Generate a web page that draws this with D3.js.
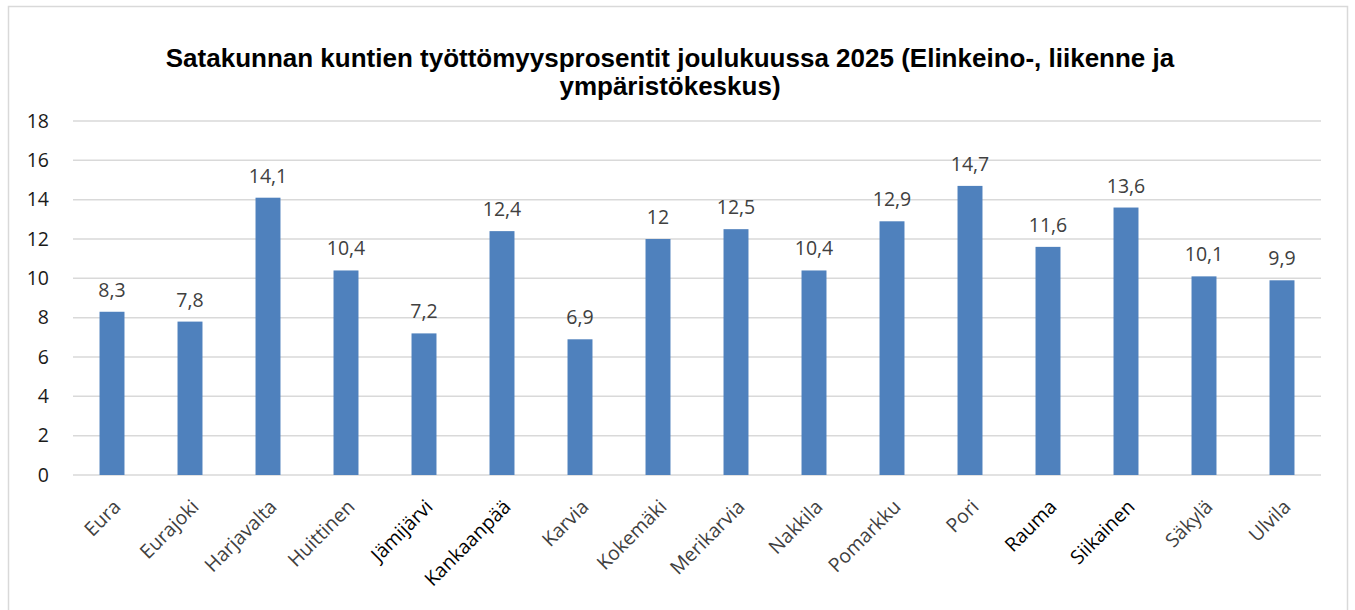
<!DOCTYPE html>
<html>
<head>
<meta charset="utf-8">
<script src="https://cdn.jsdelivr.net/npm/d3@7"></script>
<style>
  body { margin: 0; background: #fff; }
  svg { display: block; }
</style>
</head>
<body>
<div class="chartDiv"></div>
<script>
// data
var municipalities = ["Eura", "Eurajoki", "Harjavalta", "Huittinen", "Jämijärvi", "Kankaanpää",
  "Karvia", "Kokemäki", "Merikarvia", "Nakkila", "Pomarkku", "Pori", "Rauma", "Siikainen",
  "Säkylä", "Ulvila"];
var rates = [8.3, 7.8, 14.1, 10.4, 7.2, 12.4, 6.9, 12, 12.5, 10.4, 12.9, 14.7, 11.6, 13.6, 10.1, 9.9];
var darkLabels = ["Jämijärvi", "Kankaanpää", "Rauma", "Siikainen"];
var yTicks = [0, 2, 4, 6, 8, 10, 12, 14, 16, 18];
var titleLines = ["Satakunnan kuntien työttömyysprosentit joulukuussa 2025 (Elinkeino-, liikenne ja",
  "ympäristökeskus)"];

var width = 1355, height = 610;
var margin = {top: 121, right: 34, bottom: 135, left: 73};
var labelFont = "'Open Sans', 'Noto Sans', sans-serif";

var svg = d3.select(".chartDiv").append("svg")
  .attr("width", width).attr("height", height);

// outer frame
svg.append("rect").attr("x", 8.5).attr("y", 6.5)
  .attr("width", 1339).attr("height", 620)
  .attr("fill", "#fff").attr("stroke", "#d9d9d9").attr("stroke-width", 1.5);

var x = d3.scaleBand().domain(municipalities)
  .range([margin.left, width - margin.right]).paddingInner(0.68).paddingOuter(0.34);
var y = d3.scaleLinear().domain([0, 18]).range([height - margin.bottom, margin.top]);

// title
svg.append("text").attr("x", 670).attr("y", 67)
  .attr("text-anchor", "middle")
  .style("font-family", "'Liberation Sans', Arial, sans-serif")
  .style("font-weight", "bold").style("font-size", "26px").attr("fill", "#000")
  .selectAll("tspan").data(titleLines).enter().append("tspan")
  .attr("x", 670).attr("dy", function(d, i){ return i === 0 ? 0 : 28; })
  .text(function(d){ return d; });

// grid
svg.append("g").selectAll("line").data(yTicks).enter().append("line")
  .attr("x1", margin.left).attr("x2", width - margin.right)
  .attr("y1", function(d){ return y(d); }).attr("y2", function(d){ return y(d); })
  .attr("stroke", "#d9d9d9").attr("stroke-width", 1.5);

// y axis labels
var yAxis = d3.axisLeft(y).tickValues(yTicks).tickSize(0).tickPadding(0);
var yg = svg.append("g").attr("transform", "translate(49,0)").call(yAxis);
yg.select(".domain").remove();
yg.selectAll("text").style("font-family", labelFont)
  .style("font-size", "19.5px").attr("fill", "#1a1a1a").attr("text-anchor", "end");

// bars
svg.append("g").selectAll("rect").data(rates).enter().append("rect")
  .attr("x", function(d, i){ return x(municipalities[i]); })
  .attr("width", x.bandwidth())
  .attr("y", function(d){ return y(d); })
  .attr("height", function(d){ return y(0) - y(d); })
  .attr("fill", "#4f81bd");

// value labels
svg.append("g").selectAll("text").data(rates).enter().append("text")
  .attr("x", function(d, i){ return x(municipalities[i]) + x.bandwidth() / 2; })
  .attr("y", function(d){ return y(d) - 15; })
  .attr("text-anchor", "middle")
  .style("font-family", labelFont).style("font-size", "19.5px")
  .attr("fill", "#404040")
  .text(function(d){ return String(d).replace(".", ","); });

// x axis labels
var xAxis = d3.axisBottom(x).tickSize(0).tickPadding(0);
var xg = svg.append("g").attr("transform", "translate(0," + y(0) + ")").call(xAxis);
xg.select(".domain").remove();
xg.selectAll("text")
  .attr("text-anchor", "end").attr("dy", null).attr("y", 0)
  .attr("transform", "translate(10,33) rotate(-45)")
  .style("font-family", labelFont).style("font-size", "19.5px")
  .attr("fill", function(d){ return darkLabels.indexOf(d) >= 0 ? "#000" : "#404040"; });
</script>
</body>
</html>
